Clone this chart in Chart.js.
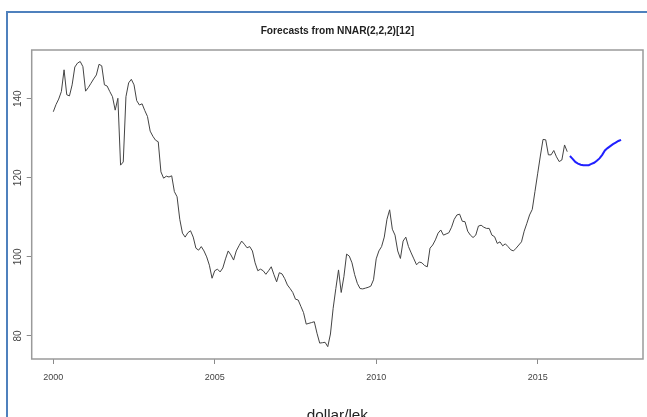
<!DOCTYPE html>
<html>
<head>
<meta charset="utf-8">
<script src="https://cdn.jsdelivr.net/npm/chart.js@4.4.1/dist/chart.umd.min.js"></script>
<style>
  html, body { margin: 0; padding: 0; background: #ffffff; }
  canvas { display: block; }
</style>
</head>
<body>
<canvas id="chart" width="647" height="417"></canvas>
<script>
// Monthly dollar/lek series, January 2000 onward
const startYear = 2000;
const periodsPerYear = 12;

const rateHistory = [
  136.7, 138.5, 139.9, 141.8, 147.3, 141.0, 140.7, 143.5, 148.0, 149.0, 149.4, 148.1,
  141.9, 142.8, 143.9, 145.0, 146.0, 148.7, 148.3, 143.5, 143.2, 141.8, 140.5, 137.1,
  140.1, 123.2, 124.0, 140.5, 144.0, 144.9, 143.5, 139.5, 138.4, 138.7, 137.0, 135.5,
  131.8, 130.5, 129.5, 129.1, 121.5, 119.9, 120.4, 120.2, 120.5, 116.5, 115.2, 109.5,
  106.0, 105.0, 106.1, 106.6, 105.0, 102.2, 101.7, 102.6, 101.5, 100.0, 97.9, 94.6,
  96.5, 96.9, 96.2, 97.2, 99.5, 101.5, 100.5, 99.2, 101.5, 102.8, 104.0, 103.2,
  102.3, 102.6, 101.5, 98.5, 96.5, 96.9, 96.5, 95.6, 96.5, 97.5, 95.5, 93.7,
  96.0, 95.7, 94.5, 92.9, 92.0, 91.0, 89.3, 89.1, 87.5, 85.9, 83.0, 83.2,
  83.4, 83.6, 80.7, 78.2, 78.3, 78.4, 77.3, 80.5, 87.0, 92.0, 96.7, 91.0,
  95.0, 100.7, 100.2, 98.5, 95.5, 93.3, 92.0, 91.9, 92.1, 92.3, 92.6, 94.2,
  99.5, 101.5, 102.6, 105.0, 109.5, 111.9, 107.0, 105.5, 101.5, 99.6, 104.0, 105.0,
  102.6, 101.0, 99.5, 98.0, 98.7, 98.5, 97.8, 97.5, 102.2, 103.0, 104.3, 106.0,
  106.8, 105.5, 105.8, 106.1, 107.5, 109.5, 110.6, 110.8, 109.0, 108.9, 106.5, 105.5,
  104.9, 105.5, 107.8, 108.0, 107.5, 107.2, 107.2, 105.5, 105.1, 103.4, 103.8, 102.8,
  103.3, 102.6, 101.8, 101.5, 102.2, 103.0, 103.8, 106.5, 108.5, 110.6, 112.0, 116.5,
  121.0, 125.5, 129.7, 129.6, 125.8, 125.8, 126.9, 125.3, 124.1, 124.5, 128.3, 126.6
];

// NNAR point forecasts, January 2016 onward
const rateForecast = [
  125.5, 124.8, 124.0, 123.6, 123.3, 123.2, 123.2, 123.2, 123.5, 123.8,
  124.3, 124.9, 125.8, 126.9, 127.5, 128.0, 128.5, 128.9, 129.3, 129.6
];

const xTickYears = [2000, 2005, 2010, 2015];
const yTickValues = [80, 100, 120, 140];

const chartTitle = 'Forecasts from NNAR(2,2,2)[12]';
const axisTitle = 'dollar/lek';

function toPoints(values, offset) {
  return values.map((v, i) => ({ x: startYear + (offset + i) / periodsPerYear, y: v }));
}

const sans = "'Liberation Sans', Arial, sans-serif";

// Page frame and plot box
const framePlugin = {
  id: 'frame',
  beforeDraw(chart) {
    const ctx = chart.ctx;
    ctx.save();
    ctx.fillStyle = '#ffffff';
    ctx.fillRect(0, 0, chart.width, chart.height);
    ctx.strokeStyle = '#4f81bd';
    ctx.lineWidth = 2;
    ctx.beginPath();
    ctx.moveTo(7, chart.height);
    ctx.lineTo(7, 12);
    ctx.lineTo(chart.width, 12);
    ctx.stroke();
    ctx.restore();
  },
  afterDatasetsDraw(chart) {
    const { left, top, right, bottom } = chart.chartArea;
    const ctx = chart.ctx;
    ctx.save();
    ctx.strokeStyle = '#9a9a9a';
    ctx.lineWidth = 1.5;
    ctx.strokeRect(left, top, right - left, bottom - top);
    ctx.restore();
  }
};

new Chart(document.getElementById('chart'), {
  type: 'line',
  data: {
    datasets: [
      {
        data: toPoints(rateHistory, 0),
        borderColor: '#444444',
        borderWidth: 1,
        pointRadius: 0,
        tension: 0
      },
      {
        data: toPoints(rateForecast, rateHistory.length),
        borderColor: '#2020ff',
        borderWidth: 2,
        pointRadius: 0,
        tension: 0
      }
    ]
  },
  options: {
    responsive: false,
    animation: false,
    devicePixelRatio: 1,
    layout: { padding: { left: 0, right: 4, top: 0, bottom: 0 } },
    plugins: {
      legend: { display: false },
      tooltip: { enabled: false },
      title: {
        display: true,
        text: chartTitle,
        fullSize: false,
        color: '#222222',
        font: { family: sans, size: 10.2, weight: 'bold', lineHeight: 1.2 },
        padding: { top: 25.3, bottom: 12.46 }
      }
    },
    scales: {
      x: {
        type: 'linear',
        position: 'bottom',
        min: 1999.331,
        max: 2018.263,
        afterBuildTicks(scale) { scale.ticks = xTickYears.map(v => ({ value: v })); },
        afterFit(scale) { scale.height = 58; },
        ticks: {
          color: '#444444',
          font: { family: sans, size: 9 },
          padding: 8.5,
          maxRotation: 0,
          callback: v => String(v)
        },
        grid: { display: true, drawOnChartArea: false, drawTicks: true, tickLength: 5, color: '#8a8a8a', lineWidth: 1 },
        border: { display: false },
        title: {
          display: true,
          text: axisTitle,
          color: '#222222',
          font: { family: sans, size: 15.3, lineHeight: 0.5 },
          padding: { top: 0, bottom: -3 }
        }
      },
      y: {
        type: 'linear',
        position: 'left',
        min: 74.18,
        max: 152.31,
        afterBuildTicks(scale) { scale.ticks = yTickValues.map(v => ({ value: v })); },
        afterFit(scale) { scale.width = 31.7; },
        ticks: {
          color: '#444444',
          font: { family: sans, size: 10 },
          padding: 0.4,
          minRotation: 90,
          maxRotation: 90,
          crossAlign: 'center',
          callback: v => String(v)
        },
        grid: { display: true, drawOnChartArea: false, drawTicks: true, tickLength: 5, color: '#8a8a8a', lineWidth: 1 },
        border: { display: false }
      }
    }
  },
  plugins: [framePlugin]
});
</script>
</body>
</html>
